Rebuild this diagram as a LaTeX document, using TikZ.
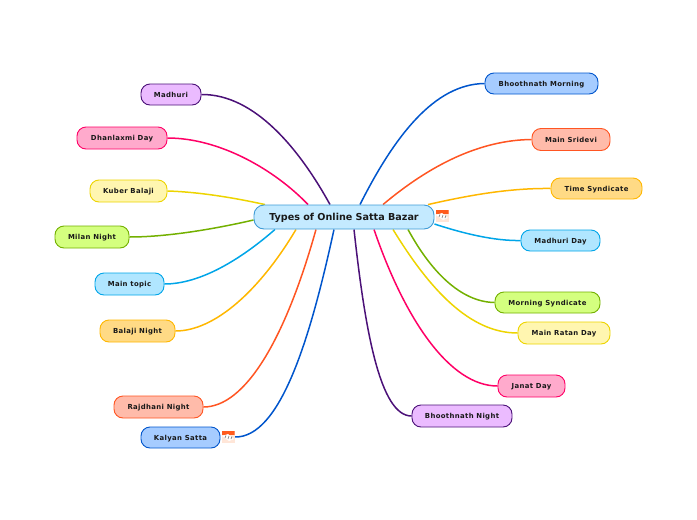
\documentclass[tikz,border=0pt]{standalone}
\usepackage{xcolor}
\usepackage{fontspec}
\setmainfont{DejaVu Sans}
\newfontfamily\topicfont[LetterSpace=5]{DejaVu Sans}
\usepackage{tikz}
\usetikzlibrary{backgrounds}
\definecolor{violetline}{HTML}{4B1178}
\definecolor{violetfill}{HTML}{EBBBFF}
\definecolor{pinkline}{HTML}{FF0066}
\definecolor{pinkfill}{HTML}{FFAACC}
\definecolor{yellowline}{HTML}{EDD400}
\definecolor{yellowfill}{HTML}{FFF6B0}
\definecolor{greenline}{HTML}{73B000}
\definecolor{greenfill}{HTML}{D4FF7F}
\definecolor{blueline}{HTML}{00A5E8}
\definecolor{bluefill}{HTML}{B0E6FF}
\definecolor{amberline}{HTML}{FFB700}
\definecolor{amberfill}{HTML}{FFDA85}
\definecolor{redline}{HTML}{FF5522}
\definecolor{redfill}{HTML}{FFBBAA}
\definecolor{royalline}{HTML}{0055CC}
\definecolor{royalfill}{HTML}{A6CCFF}
\definecolor{mainline}{HTML}{3E9BD6}
\definecolor{mainfill}{HTML}{C4EAFF}
\definecolor{sheetfill}{HTML}{FFE6D8}
\tikzset{
  topic/.style n args={4}{draw=#1, fill=#2, line width=0.9pt, rounded corners=9pt,
    minimum width=#3, minimum height=#4, inner sep=0pt, text height=5.5pt, text depth=0pt,
    font=\topicfont\fontsize{6.9}{8}\selectfont\bfseries, text=black!90},
  branch/.style={line width=1.5pt},
  sheet/.style={minimum width=13pt, minimum height=12pt, inner sep=0pt, fill=sheetfill,
    path picture={
      \fill[redline!85!orange] (path picture bounding box.north west) rectangle
        ([yshift=2pt]path picture bounding box.east);
      \fill[white] ([xshift=-6pt,yshift=1pt]path picture bounding box.center) -- ++(6pt,2pt)
        -- ++(6pt,-5pt) -- ++(-5pt,-2pt) -- cycle;
      \draw[black!55, line width=0.6pt] ([xshift=-3pt,yshift=-1pt]path picture bounding box.center) -- ++(1pt,2.5pt)
        ([yshift=-2pt]path picture bounding box.center) -- ++(1pt,3pt)
        ([xshift=3pt,yshift=-2pt]path picture bounding box.center) -- ++(1pt,2.5pt);
    }}
}
\begin{document}
\begin{tikzpicture}[x=1pt, y=-1pt]
  \useasboundingbox (0,0) rectangle (697,520);

  \node[topic={mainline}{mainfill}{180pt}{24pt}, rounded corners=10pt, text height=7pt, font=\fontsize{9.6}{11}\selectfont\bfseries] (main) at (344,217) {Types of Online Satta Bazar};
  \node[sheet] (mainsheet) at (442,216) {};

  % left side
  \node[topic={violetline}{violetfill}{60pt}{21pt}]  (madhuri)   at (171,94.5)  {Madhuri};
  \node[topic={pinkline}{pinkfill}{90pt}{22pt}]      (dhanlaxmi) at (122,138)   {Dhanlaxmi Day};
  \node[topic={yellowline}{yellowfill}{77pt}{22pt}]  (kuber)     at (128.5,191) {Kuber Balaji};
  \node[topic={greenline}{greenfill}{74pt}{22pt}]    (milan)     at (92,237)    {Milan Night};
  \node[topic={blueline}{bluefill}{69pt}{22pt}]      (maintopic) at (129.5,284) {Main topic};
  \node[topic={amberline}{amberfill}{75pt}{22pt}]    (balaji)    at (137.5,331) {Balaji Night};
  \node[topic={redline}{redfill}{89pt}{22pt}]        (rajdhani)  at (158.5,407) {Rajdhani Night};
  \node[topic={royalline}{royalfill}{79pt}{21pt}]    (kalyan)    at (180.5,437.5) {Kalyan Satta};
  \node[sheet] (kalyansheet) at (228,437) {};

  % right side
  \node[topic={royalline}{royalfill}{113pt}{21pt}]   (bmorning)  at (541.5,83.5) {Bhoothnath Morning};
  \node[topic={redline}{redfill}{78pt}{22pt}]        (sridevi)   at (571,139.5)  {Main Sridevi};
  \node[topic={amberline}{amberfill}{91pt}{21pt}]    (time)      at (596.5,188.5) {Time Syndicate};
  \node[topic={blueline}{bluefill}{79pt}{21pt}]      (mday)      at (560.5,240.5) {Madhuri Day};
  \node[topic={greenline}{greenfill}{105pt}{21pt}]   (morning)   at (547.5,302.5) {Morning Syndicate};
  \node[topic={yellowline}{yellowfill}{92pt}{22pt}]  (ratan)     at (564,333)    {Main Ratan Day};
  \node[topic={pinkline}{pinkfill}{67pt}{22pt}]      (janat)     at (531.5,386)  {Janat Day};
  \node[topic={violetline}{violetfill}{100pt}{22pt}] (bnight)    at (462,416)    {Bhoothnath Night};

  \begin{scope}[on background layer]
    \draw[branch, violetline] ([xshift=-14pt]main.north) .. controls (300,150) and (255,94)  .. (madhuri.east);
    \draw[branch, pinkline]   ([xshift=-36pt]main.north) .. controls (275,170) and (220,138) .. (dhanlaxmi.east);
    \draw[branch, yellowline] ([xshift=-79pt]main.north) .. controls (235,198) and (200,192) .. (kuber.east);
    \draw[branch, greenline]  ([yshift=-3pt]main.west)   .. controls (210,230) and (165,237) .. (milan.east);
    \draw[branch, blueline]   ([xshift=-69pt]main.south) .. controls (240,260) and (200,284) .. (maintopic.east);
    \draw[branch, amberline]  ([xshift=-48pt]main.south) .. controls (260,290) and (215,331) .. (balaji.east);
    \draw[branch, redline]    ([xshift=-28pt]main.south) .. controls (285,340) and (245,407) .. (rajdhani.east);
    \draw[branch, royalline]  ([xshift=-10pt]main.south) .. controls (310,340) and (280,438) .. (kalyansheet.east);

    \draw[branch, royalline]  ([xshift=16pt]main.north)  .. controls (395,135) and (435,84)  .. (bmorning.west);
    \draw[branch, redline]    ([xshift=39pt]main.north)  .. controls (430,165) and (480,140) .. (sridevi.west);
    \draw[branch, amberline]  ([xshift=84pt]main.north)  .. controls (470,195) and (510,188) .. (time.west);
    \draw[branch, blueline]   ([yshift=-7pt]main.east)   .. controls (465,234) and (495,241) .. (mday.west);
    \draw[branch, greenline]  ([xshift=64pt]main.south)  .. controls (430,270) and (460,302) .. (morning.west);
    \draw[branch, yellowline] ([xshift=49pt]main.south)  .. controls (430,290) and (470,333) .. (ratan.west);
    \draw[branch, pinkline]   ([xshift=30pt]main.south)  .. controls (405,320) and (450,386) .. (janat.west);
    \draw[branch, violetline] ([xshift=10pt]main.south)  .. controls (365,330) and (380,416) .. (bnight.west);
  \end{scope}
\end{tikzpicture}
\end{document}
